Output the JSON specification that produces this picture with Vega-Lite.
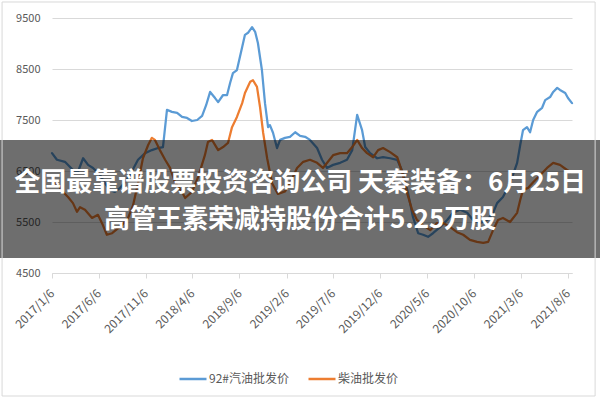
{
  "$schema": "https://vega.github.io/schema/vega-lite/v6.json",
  "width": 520,
  "height": 255,
  "autosize": {"type": "none"},
  "padding": {"left": 52, "top": 18, "right": 28, "bottom": 127},
  "background": "white",
  "config": {"view": {"stroke": null}, "font": "Noto Sans CJK SC"},
  "layer": [
    {
      "data": {"values": [
        {"date": "2017-01-06", "series": "92#汽油批发价", "price": 6850},
        {"date": "2017-01-22", "series": "92#汽油批发价", "price": 6720},
        {"date": "2017-02-17", "series": "92#汽油批发价", "price": 6680},
        {"date": "2017-03-15", "series": "92#汽油批发价", "price": 6520},
        {"date": "2017-03-31", "series": "92#汽油批发价", "price": 6480},
        {"date": "2017-04-17", "series": "92#汽油批发价", "price": 6750},
        {"date": "2017-05-03", "series": "92#汽油批发价", "price": 6620},
        {"date": "2017-05-19", "series": "92#汽油批发价", "price": 6560},
        {"date": "2017-06-11", "series": "92#汽油批发价", "price": 6420},
        {"date": "2017-06-27", "series": "92#汽油批发价", "price": 6260},
        {"date": "2017-07-13", "series": "92#汽油批发价", "price": 6130},
        {"date": "2017-07-29", "series": "92#汽油批发价", "price": 6090},
        {"date": "2017-08-15", "series": "92#汽油批发价", "price": 6170},
        {"date": "2017-08-31", "series": "92#汽油批发价", "price": 6280},
        {"date": "2017-09-16", "series": "92#汽油批发价", "price": 6420},
        {"date": "2017-10-12", "series": "92#汽油批发价", "price": 6720},
        {"date": "2017-11-04", "series": "92#汽油批发价", "price": 6850},
        {"date": "2017-11-26", "series": "92#汽油批发价", "price": 6910},
        {"date": "2017-12-16", "series": "92#汽油批发价", "price": 6950},
        {"date": "2018-01-01", "series": "92#汽油批发价", "price": 6970},
        {"date": "2018-01-14", "series": "92#汽油批发价", "price": 7700},
        {"date": "2018-01-30", "series": "92#汽油批发价", "price": 7660},
        {"date": "2018-02-16", "series": "92#汽油批发价", "price": 7640},
        {"date": "2018-03-04", "series": "92#汽油批发价", "price": 7560},
        {"date": "2018-03-20", "series": "92#汽油批发价", "price": 7540},
        {"date": "2018-04-05", "series": "92#汽油批发价", "price": 7480},
        {"date": "2018-04-22", "series": "92#汽油批发价", "price": 7500},
        {"date": "2018-05-08", "series": "92#汽油批发价", "price": 7580},
        {"date": "2018-05-21", "series": "92#汽油批发价", "price": 7790},
        {"date": "2018-06-03", "series": "92#汽油批发价", "price": 8050},
        {"date": "2018-06-19", "series": "92#汽油批发价", "price": 7930},
        {"date": "2018-06-29", "series": "92#汽油批发价", "price": 7850},
        {"date": "2018-07-15", "series": "92#汽油批发价", "price": 7990},
        {"date": "2018-07-28", "series": "92#汽油批发价", "price": 7990},
        {"date": "2018-08-07", "series": "92#汽油批发价", "price": 8230},
        {"date": "2018-08-16", "series": "92#汽油批发价", "price": 8420},
        {"date": "2018-08-29", "series": "92#汽油批发价", "price": 8480},
        {"date": "2018-09-15", "series": "92#汽油批发价", "price": 8930},
        {"date": "2018-09-24", "series": "92#汽油批发价", "price": 9170},
        {"date": "2018-10-04", "series": "92#汽油批发价", "price": 9210},
        {"date": "2018-10-17", "series": "92#汽油批发价", "price": 9320},
        {"date": "2018-10-27", "series": "92#汽油批发价", "price": 9230},
        {"date": "2018-11-05", "series": "92#汽油批发价", "price": 9010},
        {"date": "2018-11-18", "series": "92#汽油批发价", "price": 8480},
        {"date": "2018-11-28", "series": "92#汽油批发价", "price": 7830},
        {"date": "2018-12-08", "series": "92#汽油批发价", "price": 7360},
        {"date": "2018-12-14", "series": "92#汽油批发价", "price": 7400},
        {"date": "2018-12-24", "series": "92#汽油批发价", "price": 7250},
        {"date": "2019-01-06", "series": "92#汽油批发价", "price": 6950},
        {"date": "2019-01-16", "series": "92#汽油批发价", "price": 7110},
        {"date": "2019-02-01", "series": "92#汽油批发价", "price": 7150},
        {"date": "2019-02-17", "series": "92#汽油批发价", "price": 7170},
        {"date": "2019-03-06", "series": "92#汽油批发价", "price": 7260},
        {"date": "2019-03-22", "series": "92#汽油批发价", "price": 7190},
        {"date": "2019-04-07", "series": "92#汽油批发价", "price": 7170},
        {"date": "2019-04-23", "series": "92#汽油批发价", "price": 7110},
        {"date": "2019-05-16", "series": "92#汽油批发价", "price": 6950},
        {"date": "2019-06-01", "series": "92#汽油批发价", "price": 6720},
        {"date": "2019-06-17", "series": "92#汽油批发价", "price": 6560},
        {"date": "2019-07-07", "series": "92#汽油批发价", "price": 6620},
        {"date": "2019-07-30", "series": "92#汽油批发价", "price": 6660},
        {"date": "2019-08-21", "series": "92#汽油批发价", "price": 6720},
        {"date": "2019-09-07", "series": "92#汽油批发价", "price": 6910},
        {"date": "2019-09-23", "series": "92#汽油批发价", "price": 7600},
        {"date": "2019-10-09", "series": "92#汽油批发价", "price": 7300},
        {"date": "2019-10-19", "series": "92#汽油批发价", "price": 6970},
        {"date": "2019-11-04", "series": "92#汽油批发价", "price": 6850},
        {"date": "2019-11-27", "series": "92#汽油批发价", "price": 6750},
        {"date": "2019-12-16", "series": "92#汽油批发价", "price": 6770},
        {"date": "2020-01-08", "series": "92#汽油批发价", "price": 6750},
        {"date": "2020-01-31", "series": "92#汽油批发价", "price": 6720},
        {"date": "2020-02-19", "series": "92#汽油批发价", "price": 6460},
        {"date": "2020-03-06", "series": "92#汽油批发价", "price": 6070},
        {"date": "2020-03-22", "series": "92#汽油批发价", "price": 5600},
        {"date": "2020-04-08", "series": "92#汽油批发价", "price": 5280},
        {"date": "2020-04-24", "series": "92#汽油批发价", "price": 5250},
        {"date": "2020-05-10", "series": "92#汽油批发价", "price": 5210},
        {"date": "2020-05-26", "series": "92#汽油批发价", "price": 5280},
        {"date": "2020-06-18", "series": "92#汽油批发价", "price": 5400},
        {"date": "2020-07-11", "series": "92#汽油批发价", "price": 5540},
        {"date": "2020-07-30", "series": "92#汽油批发价", "price": 5680},
        {"date": "2020-08-22", "series": "92#汽油批发价", "price": 5740},
        {"date": "2020-09-14", "series": "92#汽油批发价", "price": 5680},
        {"date": "2020-10-03", "series": "92#汽油批发价", "price": 5540},
        {"date": "2020-10-26", "series": "92#汽油批发价", "price": 5480},
        {"date": "2020-11-18", "series": "92#汽油批发价", "price": 5540},
        {"date": "2020-12-07", "series": "92#汽油批发价", "price": 5680},
        {"date": "2020-12-20", "series": "92#汽油批发价", "price": 5870},
        {"date": "2021-01-08", "series": "92#汽油批发价", "price": 5990},
        {"date": "2021-01-31", "series": "92#汽油批发价", "price": 6260},
        {"date": "2021-02-23", "series": "92#汽油批发价", "price": 6660},
        {"date": "2021-03-05", "series": "92#汽油批发价", "price": 7010},
        {"date": "2021-03-14", "series": "92#汽油批发价", "price": 7300},
        {"date": "2021-03-27", "series": "92#汽油批发价", "price": 7360},
        {"date": "2021-04-06", "series": "92#汽油批发价", "price": 7260},
        {"date": "2021-04-16", "series": "92#汽油批发价", "price": 7500},
        {"date": "2021-04-29", "series": "92#汽油批发价", "price": 7660},
        {"date": "2021-05-15", "series": "92#汽油批发价", "price": 7740},
        {"date": "2021-05-25", "series": "92#汽油批发价", "price": 7890},
        {"date": "2021-06-10", "series": "92#汽油批发价", "price": 7950},
        {"date": "2021-06-20", "series": "92#汽油批发价", "price": 8050},
        {"date": "2021-07-03", "series": "92#汽油批发价", "price": 8130},
        {"date": "2021-07-12", "series": "92#汽油批发价", "price": 8090},
        {"date": "2021-07-29", "series": "92#汽油批发价", "price": 8030},
        {"date": "2021-08-07", "series": "92#汽油批发价", "price": 7930},
        {"date": "2021-08-20", "series": "92#汽油批发价", "price": 7830},
        {"date": "2017-01-06", "series": "柴油批发价", "price": 6320},
        {"date": "2017-01-25", "series": "柴油批发价", "price": 6230},
        {"date": "2017-02-11", "series": "柴油批发价", "price": 6090},
        {"date": "2017-02-27", "series": "柴油批发价", "price": 5990},
        {"date": "2017-03-15", "series": "柴油批发价", "price": 5870},
        {"date": "2017-03-28", "series": "柴油批发价", "price": 5700},
        {"date": "2017-04-07", "series": "柴油批发价", "price": 5790},
        {"date": "2017-04-23", "series": "柴油批发价", "price": 5740},
        {"date": "2017-05-16", "series": "柴油批发价", "price": 5580},
        {"date": "2017-06-04", "series": "柴油批发价", "price": 5640},
        {"date": "2017-06-20", "series": "柴油批发价", "price": 5440},
        {"date": "2017-07-03", "series": "柴油批发价", "price": 5250},
        {"date": "2017-07-20", "series": "柴油批发价", "price": 5280},
        {"date": "2017-08-21", "series": "柴油批发价", "price": 5440},
        {"date": "2017-09-10", "series": "柴油批发价", "price": 5580},
        {"date": "2017-09-26", "series": "柴油批发价", "price": 5830},
        {"date": "2017-10-12", "series": "柴油批发价", "price": 6260},
        {"date": "2017-10-28", "series": "柴油批发价", "price": 6750},
        {"date": "2017-11-14", "series": "柴油批发价", "price": 7010},
        {"date": "2017-11-26", "series": "柴油批发价", "price": 7150},
        {"date": "2017-12-06", "series": "柴油批发价", "price": 7110},
        {"date": "2017-12-22", "series": "柴油批发价", "price": 6910},
        {"date": "2018-01-08", "series": "柴油批发价", "price": 6720},
        {"date": "2018-01-24", "series": "柴油批发价", "price": 6560},
        {"date": "2018-02-09", "series": "柴油批发价", "price": 6280},
        {"date": "2018-03-04", "series": "柴油批发价", "price": 6090},
        {"date": "2018-03-14", "series": "柴油批发价", "price": 5970},
        {"date": "2018-04-05", "series": "柴油批发价", "price": 6090},
        {"date": "2018-04-25", "series": "柴油批发价", "price": 6380},
        {"date": "2018-05-17", "series": "柴油批发价", "price": 6810},
        {"date": "2018-05-27", "series": "柴油批发价", "price": 7070},
        {"date": "2018-06-09", "series": "柴油批发价", "price": 7110},
        {"date": "2018-06-29", "series": "柴油批发价", "price": 6910},
        {"date": "2018-07-15", "series": "柴油批发价", "price": 6970},
        {"date": "2018-07-31", "series": "柴油批发价", "price": 7050},
        {"date": "2018-08-13", "series": "柴油批发价", "price": 7360},
        {"date": "2018-08-29", "series": "柴油批发价", "price": 7560},
        {"date": "2018-09-15", "series": "柴油批发价", "price": 7830},
        {"date": "2018-09-24", "series": "柴油批发价", "price": 8030},
        {"date": "2018-10-11", "series": "柴油批发价", "price": 8250},
        {"date": "2018-10-20", "series": "柴油批发价", "price": 8280},
        {"date": "2018-11-02", "series": "柴油批发价", "price": 8150},
        {"date": "2018-11-12", "series": "柴油批发价", "price": 7750},
        {"date": "2018-11-22", "series": "柴油批发价", "price": 7250},
        {"date": "2018-12-05", "series": "柴油批发价", "price": 6750},
        {"date": "2018-12-21", "series": "柴油批发价", "price": 6260},
        {"date": "2019-01-09", "series": "柴油批发价", "price": 6050},
        {"date": "2019-02-01", "series": "柴油批发价", "price": 6100},
        {"date": "2019-02-24", "series": "柴油批发价", "price": 6350},
        {"date": "2019-03-12", "series": "柴油批发价", "price": 6560},
        {"date": "2019-04-01", "series": "柴油批发价", "price": 6680},
        {"date": "2019-04-23", "series": "柴油批发价", "price": 6720},
        {"date": "2019-05-16", "series": "柴油批发价", "price": 6660},
        {"date": "2019-06-04", "series": "柴油批发价", "price": 6560},
        {"date": "2019-07-07", "series": "柴油批发价", "price": 6810},
        {"date": "2019-07-30", "series": "柴油批发价", "price": 6850},
        {"date": "2019-08-21", "series": "柴油批发价", "price": 6850},
        {"date": "2019-09-07", "series": "柴油批发价", "price": 6970},
        {"date": "2019-09-23", "series": "柴油批发价", "price": 7110},
        {"date": "2019-10-09", "series": "柴油批发价", "price": 6950},
        {"date": "2019-10-25", "series": "柴油批发价", "price": 6850},
        {"date": "2019-11-14", "series": "柴油批发价", "price": 6770},
        {"date": "2019-11-30", "series": "柴油批发价", "price": 6910},
        {"date": "2019-12-16", "series": "柴油批发价", "price": 6950},
        {"date": "2020-01-08", "series": "柴油批发价", "price": 6870},
        {"date": "2020-01-31", "series": "柴油批发价", "price": 6770},
        {"date": "2020-02-16", "series": "柴油批发价", "price": 6480},
        {"date": "2020-03-03", "series": "柴油批发价", "price": 6070},
        {"date": "2020-03-19", "series": "柴油批发价", "price": 5740},
        {"date": "2020-04-04", "series": "柴油批发价", "price": 5540},
        {"date": "2020-04-24", "series": "柴油批发价", "price": 5440},
        {"date": "2020-05-17", "series": "柴油批发价", "price": 5340},
        {"date": "2020-06-08", "series": "柴油批发价", "price": 5480},
        {"date": "2020-06-28", "series": "柴油批发价", "price": 5480},
        {"date": "2020-07-21", "series": "柴油批发价", "price": 5400},
        {"date": "2020-08-12", "series": "柴油批发价", "price": 5300},
        {"date": "2020-09-01", "series": "柴油批发价", "price": 5250},
        {"date": "2020-09-23", "series": "柴油批发价", "price": 5150},
        {"date": "2020-10-16", "series": "柴油批发价", "price": 5110},
        {"date": "2020-11-05", "series": "柴油批发价", "price": 5090},
        {"date": "2020-11-21", "series": "柴油批发价", "price": 5110},
        {"date": "2020-12-07", "series": "柴油批发价", "price": 5340},
        {"date": "2020-12-23", "series": "柴油批发价", "price": 5540},
        {"date": "2021-01-08", "series": "柴油批发价", "price": 5580},
        {"date": "2021-01-31", "series": "柴油批发价", "price": 5500},
        {"date": "2021-02-23", "series": "柴油批发价", "price": 5680},
        {"date": "2021-03-05", "series": "柴油批发价", "price": 5930},
        {"date": "2021-03-14", "series": "柴油批发价", "price": 6130},
        {"date": "2021-03-31", "series": "柴油批发价", "price": 6170},
        {"date": "2021-04-16", "series": "柴油批发价", "price": 6280},
        {"date": "2021-05-09", "series": "柴油批发价", "price": 6420},
        {"date": "2021-05-31", "series": "柴油批发价", "price": 6560},
        {"date": "2021-06-20", "series": "柴油批发价", "price": 6660},
        {"date": "2021-07-12", "series": "柴油批发价", "price": 6620},
        {"date": "2021-08-04", "series": "柴油批发价", "price": 6520},
        {"date": "2021-08-14", "series": "柴油批发价", "price": 6480}
      ]},
      "mark": {"type": "line", "strokeWidth": 2.25, "strokeJoin": "round", "strokeCap": "round"},
      "encoding": {
        "x": {
          "field": "date", "type": "temporal",
          "scale": {"domain": [{"year": 2017, "month": 1, "date": 6}, {"year": 2021, "month": 8, "date": 20}]},
          "axis": {
            "title": null,
            "values": [
              {"year": 2017, "month": 1, "date": 6}, {"year": 2017, "month": 6, "date": 6},
              {"year": 2017, "month": 11, "date": 6}, {"year": 2018, "month": 4, "date": 6},
              {"year": 2018, "month": 9, "date": 6}, {"year": 2019, "month": 2, "date": 6},
              {"year": 2019, "month": 7, "date": 6}, {"year": 2019, "month": 12, "date": 6},
              {"year": 2020, "month": 5, "date": 6}, {"year": 2020, "month": 10, "date": 6},
              {"year": 2021, "month": 3, "date": 6}, {"year": 2021, "month": 8, "date": 6}
            ],
            "format": "%Y/%-m/%-d",
            "labelAngle": -45, "labelAlign": "right", "labelBaseline": "middle",
            "labelFontSize": 12, "labelColor": "#595959", "labelPadding": 13,
            "labelOverlap": false, "labelFlush": false,
            "domainColor": "#d9d9d9", "tickColor": "#d9d9d9", "tickSize": 5, "grid": false
          }
        },
        "y": {
          "field": "price", "type": "quantitative",
          "scale": {"domain": [4500, 9500], "nice": false, "zero": false},
          "axis": {
            "title": null, "values": [4500, 5500, 6500, 7500, 8500, 9500], "format": "d",
            "labelFontSize": 11, "labelColor": "#595959", "labelPadding": 12,
            "domain": false, "ticks": false, "gridColor": "#d9d9d9", "gridWidth": 1
          }
        },
        "color": {
          "field": "series", "type": "nominal",
          "scale": {"domain": ["92#汽油批发价", "柴油批发价"], "range": ["#5b9bd5", "#ed7d31"]},
          "legend": {
            "title": null, "orient": "none", "legendX": 126, "legendY": 346, "direction": "horizontal",
            "symbolType": "stroke", "symbolSize": 729, "symbolStrokeWidth": 2.5,
            "labelFontSize": 12, "labelColor": "#595959", "columnPadding": 14, "labelOffset": 1
          }
        }
      }
    },
    {
      "data": {"values": [{}]},
      "mark": {"type": "rect", "fill": "#000000", "opacity": 0.57},
      "encoding": {
        "x": {"datum": {"year": 2016, "month": 7, "date": 1}, "type": "temporal"},
        "x2": {"datum": {"year": 2021, "month": 12, "date": 31}},
        "y": {"datum": 7108, "type": "quantitative"},
        "y2": {"datum": 4794}
      }
    },
    {
      "data": {"values": [{}]},
      "mark": {"type": "text", "color": "white", "fontSize": 26, "fontWeight": "bold", "font": "Noto Sans CJK SC", "align": "center", "baseline": "middle", "lineHeight": 37},
      "encoding": {
        "x": {"datum": {"year": 2019, "month": 3, "date": 22}, "type": "temporal"},
        "y": {"datum": 6265, "type": "quantitative"},
        "text": {"value": ["全国最靠谱股票投资咨询公司 天秦装备：6月25日", "高管王素荣减持股份合计5.25万股"]}
      }
    },
    {
      "data": {"values": [{}]},
      "mark": {"type": "rect", "fillOpacity": 0, "stroke": "#d9d9d9", "strokeWidth": 1},
      "encoding": {
        "x": {"datum": {"year": 2016, "month": 7, "date": 28}, "type": "temporal"},
        "x2": {"datum": {"year": 2021, "month": 11, "date": 3}},
        "y": {"datum": 9814, "type": "quantitative"},
        "y2": {"datum": 2088}
      }
    }
  ]
}
